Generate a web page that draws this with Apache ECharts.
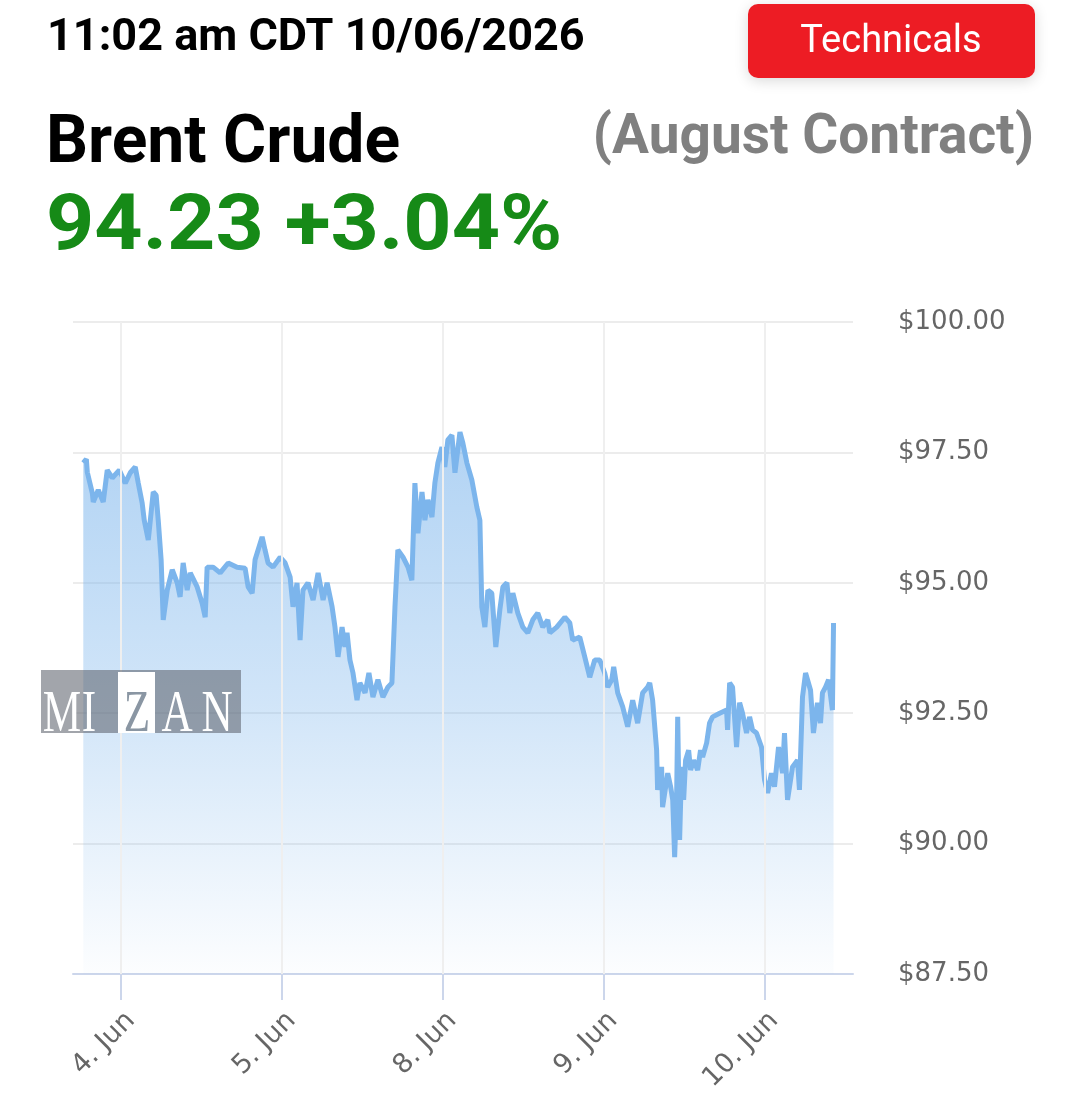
<!DOCTYPE html>
<html>
<head>
<meta charset="utf-8">
<title>Brent Crude</title>
<script src="https://cdn.jsdelivr.net/npm/echarts@6/dist/echarts.min.js"></script>
<style>
    html, body { margin: 0; padding: 0; background: #fff; }
    #chart { width: 1080px; height: 1111px; }
</style>
</head>
<body>
<div id="chart"></div>
<script>
    // x = trading days since 4 Jun (4 Jun = 0, 5 Jun = 1, 8 Jun = 2 ...)
    var dayTicks = [0, 1, 2, 3, 4];
    var dayLabels = ['4. Jun', '5. Jun', '8. Jun', '9. Jun', '10. Jun'];
    var priceTicks = [87.5, 90, 92.5, 95, 97.5, 100];

    // brent price
    var times = [
        -0.236, -0.217, -0.211, -0.180, -0.174, -0.143, -0.112, -0.087, -0.056, -0.012,
        0.025, 0.056, 0.087, 0.106, 0.130, 0.143, 0.168, 0.199, 0.217, 0.230,
        0.248, 0.261, 0.286, 0.317, 0.348, 0.366, 0.385, 0.410, 0.429, 0.472,
        0.503, 0.522, 0.534, 0.571, 0.615, 0.665, 0.720, 0.770, 0.789, 0.814,
        0.832, 0.876, 0.894, 0.913, 0.944, 0.988, 1.019, 1.050, 1.068, 1.093,
        1.112, 1.130, 1.161, 1.193, 1.224, 1.255, 1.280, 1.311, 1.329, 1.348,
        1.373, 1.391, 1.404, 1.422, 1.441, 1.466, 1.484, 1.516, 1.540, 1.565,
        1.596, 1.627, 1.658, 1.683, 1.702, 1.720, 1.752, 1.783, 1.807, 1.826,
        1.845, 1.870, 1.888, 1.907, 1.932, 1.950, 1.969, 1.994, 2.012, 2.031,
        2.056, 2.075, 2.106, 2.124, 2.149, 2.180, 2.211, 2.230, 2.242, 2.261,
        2.280, 2.304, 2.329, 2.354, 2.373, 2.398, 2.416, 2.435, 2.466, 2.497,
        2.528, 2.559, 2.590, 2.621, 2.652, 2.665, 2.708, 2.758, 2.789, 2.807,
        2.851, 2.882, 2.913, 2.944, 2.975, 3.006, 3.025, 3.050, 3.062, 3.087,
        3.118, 3.149, 3.180, 3.211, 3.242, 3.273, 3.286, 3.304, 3.329, 3.335,
        3.360, 3.366, 3.398, 3.416, 3.429, 3.441, 3.453, 3.460, 3.472, 3.484,
        3.497, 3.509, 3.528, 3.540, 3.559, 3.584, 3.602, 3.615, 3.640, 3.658,
        3.677, 3.721, 3.764, 3.770, 3.783, 3.801, 3.826, 3.845, 3.863, 3.888,
        3.907, 3.925, 3.950, 3.981, 4.000, 4.019, 4.043, 4.062, 4.087, 4.112,
        4.124, 4.143, 4.174, 4.205, 4.217, 4.236, 4.255, 4.286, 4.304, 4.329,
        4.348, 4.360, 4.379, 4.398, 4.422, 4.429
    ];
    var prices = [
        97.30, 97.37, 97.12, 96.72, 96.55, 96.78, 96.55, 97.16, 97.01, 97.16,
        96.91, 97.11, 97.22, 96.91, 96.53, 96.20, 95.82, 96.74, 96.68, 96.20,
        95.44, 94.29, 94.86, 95.25, 95.00, 94.73, 95.38, 94.86, 95.19, 94.92,
        94.61, 94.34, 95.30, 95.30, 95.19, 95.38, 95.30, 95.28, 94.92, 94.80,
        95.44, 95.88, 95.63, 95.38, 95.30, 95.49, 95.38, 95.11, 94.54, 95.00,
        93.90, 94.86, 95.00, 94.67, 95.19, 94.67, 95.00, 94.54, 94.15, 93.58,
        94.15, 93.77, 94.04, 93.52, 93.27, 92.75, 93.08, 92.89, 93.27, 92.81,
        93.14, 92.81, 93.00, 93.08, 94.54, 95.63, 95.49, 95.30, 95.05, 96.91,
        95.95, 96.74, 96.20, 96.59, 96.26, 96.91, 97.30, 97.60, 97.22, 97.74,
        97.83, 97.11, 97.89, 97.68, 97.30, 96.97, 96.45, 96.20, 94.54, 94.15,
        94.86, 94.80, 93.77, 94.48, 94.92, 95.00, 94.42, 94.80, 94.42, 94.15,
        94.04, 94.29, 94.42, 94.15, 94.29, 94.04, 94.15, 94.34, 94.23, 93.90,
        93.96, 93.58, 93.19, 93.52, 93.52, 93.27, 93.00, 93.14, 93.39, 92.89,
        92.62, 92.24, 92.75, 92.31, 92.89, 93.00, 93.08, 92.75, 91.79, 91.03,
        91.47, 90.70, 91.35, 91.09, 90.84, 89.74, 90.84, 92.43, 90.07, 91.47,
        90.84, 91.60, 91.79, 91.41, 91.60, 91.41, 91.79, 91.66, 91.93, 92.31,
        92.43, 92.50, 92.56, 92.18, 93.08, 93.00, 91.85, 92.70, 92.50, 92.12,
        92.43, 92.18, 92.12, 91.85, 91.22, 90.97, 91.35, 91.09, 91.85, 91.35,
        92.12, 90.84, 91.47, 91.60, 91.03, 92.81, 93.27, 92.94, 92.12, 92.70,
        92.31, 92.89, 93.00, 93.14, 92.56, 94.23
    ];

    var seriesData = [];
    times.forEach(function (t, i) {
        seriesData.push([t, prices[i]]);
    });

    var serif = '60px "Liberation Serif", "DejaVu Serif", serif';

    var myChart = echarts.init(document.getElementById('chart'));
    myChart.setOption({
        backgroundColor: '#fff',
        animation: false,
        textStyle: { fontFamily: 'Roboto, sans-serif' },
        graphic: [
            {
                type: 'text', x: 47, y: 39,
                style: { text: '11:02 am CDT 10/06/2026', fill: '#000', font: 'bold 45px Roboto', verticalAlign: 'middle' }
            },
            {
                type: 'rect', x: 748, y: 4,
                shape: { width: 287, height: 74, r: 10 },
                style: { fill: '#ed1c24', shadowBlur: 14, shadowColor: 'rgba(0,0,0,0.15)', shadowOffsetY: 3 }
            },
            {
                type: 'text', x: 891, y: 42,
                style: { text: 'Technicals', fill: '#fff', font: '38px Roboto', align: 'center', verticalAlign: 'middle' }
            },
            {
                type: 'text', x: 46, y: 145,
                style: { text: 'Brent Crude', fill: '#000', font: 'bold 66px Roboto', verticalAlign: 'middle' }
            },
            {
                type: 'text', x: 1034, y: 139,
                style: { text: '(August Contract)', fill: '#808080', font: 'bold 55px Roboto', align: 'right', verticalAlign: 'middle' }
            },
            {
                type: 'text', x: 46, y: 229, scaleX: 1.08,
                style: { text: '94.23 +3.04%', fill: '#168a17', font: 'bold 78px Roboto', verticalAlign: 'middle' }
            },
            // watermark
            {
                type: 'rect', x: 41, y: 670, z: 10,
                shape: { width: 200, height: 63 },
                style: { fill: 'rgba(95,100,110,0.58)' }
            },
            {
                type: 'rect', x: 118, y: 672, z: 11,
                shape: { width: 37, height: 61 },
                style: { fill: '#fff' }
            },
            { type: 'text', x: 62, y: 745, z: 12, scaleX: 0.72, style: { text: 'M', fill: '#fff', font: serif, align: 'center', verticalAlign: 'bottom' } },
            { type: 'text', x: 89, y: 745, z: 12, scaleX: 0.72, style: { text: 'I', fill: '#fff', font: serif, align: 'center', verticalAlign: 'bottom' } },
            { type: 'text', x: 137, y: 745, z: 12, scaleX: 0.72, style: { text: 'Z', fill: '#8a96a3', font: serif, align: 'center', verticalAlign: 'bottom' } },
            { type: 'text', x: 177, y: 745, z: 12, scaleX: 0.72, style: { text: 'A', fill: '#fff', font: serif, align: 'center', verticalAlign: 'bottom' } },
            { type: 'text', x: 217, y: 745, z: 12, scaleX: 0.72, style: { text: 'N', fill: '#fff', font: serif, align: 'center', verticalAlign: 'bottom' } }
        ],
        grid: {
            left: 73,
            right: 227,
            top: 322,
            bottom: 137
        },
        xAxis: {
            type: 'value',
            min: -0.3,
            max: 4.55,
            axisLine: { lineStyle: { color: '#ccd6eb', width: 2 } },
            axisTick: {
                customValues: dayTicks,
                length: 26,
                lineStyle: { color: '#ccd6eb', width: 2 }
            },
            axisLabel: {
                customValues: dayTicks,
                rotate: 45,
                margin: 33,
                verticalAlign: 'top',
                fontSize: 27,
                fontFamily: 'DejaVu Sans',
                color: '#666',
                formatter: function (v) {
                    return dayLabels[dayTicks.indexOf(v)];
                }
            },
            splitLine: { show: false }
        },
        yAxis: {
            type: 'value',
            position: 'right',
            min: priceTicks[0],
            max: priceTicks[priceTicks.length - 1],
            interval: 2.5,
            axisLine: { show: false },
            axisTick: { show: false },
            axisLabel: {
                margin: 45,
                fontSize: 26,
                fontFamily: 'DejaVu Sans',
                color: '#666',
                formatter: function (v) {
                    return '$' + v.toFixed(2);
                }
            },
            splitLine: { lineStyle: { color: '#ececec', width: 2 } }
        },
        series: [
            {
                name: 'Brent Crude',
                type: 'line',
                data: seriesData,
                showSymbol: false,
                lineStyle: { color: '#7cb5ec', width: 5 },
                itemStyle: { color: '#7cb5ec' },
                areaStyle: {
                    color: new echarts.graphic.LinearGradient(0, 0, 0, 1, [
                        { offset: 0, color: 'rgba(124,181,236,0.85)' },
                        { offset: 0.5, color: 'rgba(124,181,236,0.5)' },
                        { offset: 1, color: 'rgba(124,181,236,0.03)' }
                    ])
                },
                markLine: {
                    silent: true,
                    symbol: 'none',
                    label: { show: false },
                    lineStyle: { color: '#efefef', width: 2, type: 'solid' },
                    data: dayTicks.map(function (d) {
                        return { xAxis: d };
                    })
                },
                z: 3
            }
        ]
    });
</script>
</body>
</html>
